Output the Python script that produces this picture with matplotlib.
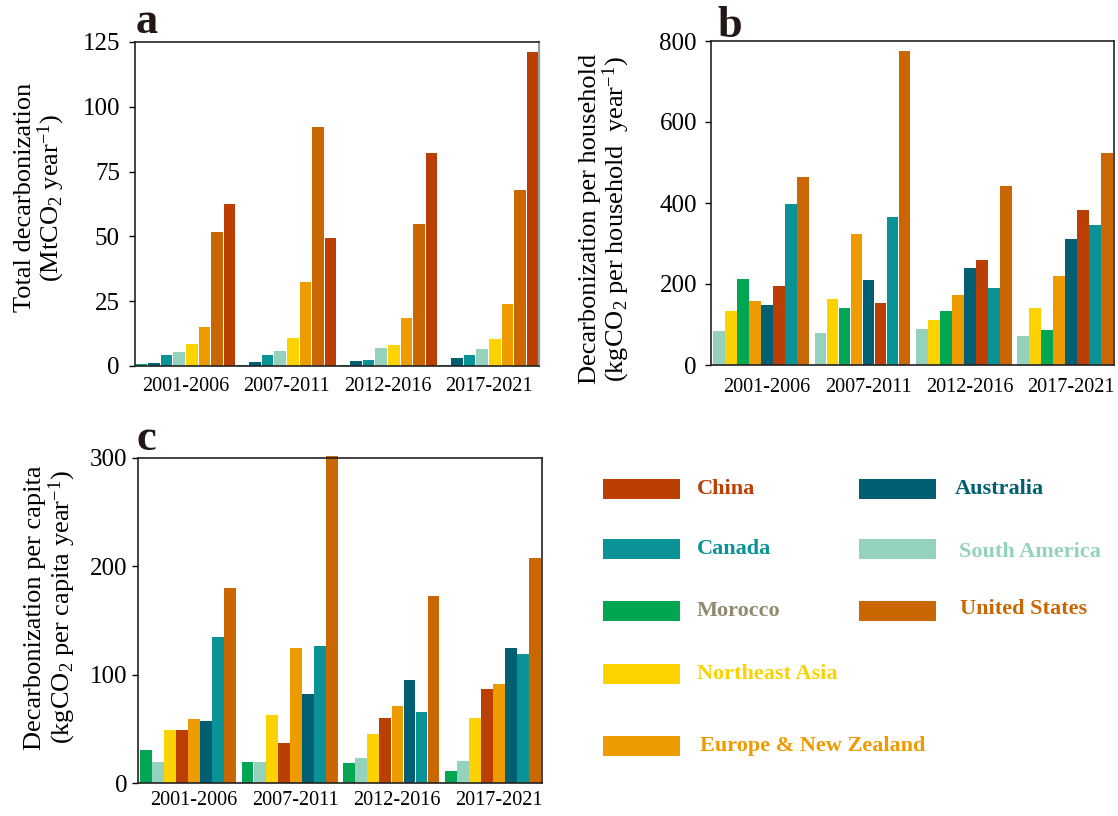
import matplotlib
matplotlib.use('Agg')
import matplotlib.pyplot as plt
from matplotlib.patches import Rectangle

plt.rcParams['font.family'] = ['Liberation Serif', 'DejaVu Serif']
plt.rcParams['mathtext.fontset'] = 'custom'
plt.rcParams['mathtext.rm'] = 'Liberation Serif'
plt.rcParams['mathtext.it'] = 'Liberation Serif:italic'

W, H = 1118, 816

periods = ['2001-2006', '2007-2011', '2012-2016', '2017-2021']

colors = {
    'China': '#BB3E03',
    'Canada': '#0A9396',
    'Morocco': '#00A651',
    'Northeast Asia': '#FCD200',
    'Europe & New Zealand': '#EE9B00',
    'Australia': '#005F73',
    'South America': '#94D2BD',
    'United States': '#CA6702',
}
label_colors = dict(colors)
label_colors['Morocco'] = '#8F8A6E'

# panel a - total decarbonization (MtCO2 / year), bars left to right in each period
total_order = ['Morocco', 'Australia', 'Canada', 'South America',
               'Northeast Asia', 'Europe & New Zealand', 'United States', 'China']
total_values = [
    [0.9, 0.4, 0.4, 0.4],
    [1.3, 1.7, 2.1, 3.2],
    [4.4, 4.4, 2.4, 4.4],
    [5.5, 5.9, 7.1, 6.7],
    [8.6, 10.9, 8.2, 10.5],
    [15.1, 32.5, 18.6, 24.0],
    [51.7, 92.2, 54.8, 67.9],
    [62.5, 49.3, 82.2, 121.1],
]

# panel b - per household (kgCO2 / household / year)
household_order = ['South America', 'Northeast Asia', 'Morocco', 'Europe & New Zealand',
                   'Australia', 'China', 'Canada', 'United States']
household_values = [
    [85, 79, 89, 72],
    [133, 163, 111, 141],
    [212, 141, 133, 86],
    [158, 323, 173, 220],
    [148, 210, 240, 311],
    [195, 153, 259, 383],
    [398, 365, 190, 346],
    [464, 775, 442, 523],
]

# panel c - per capita (kgCO2 / capita / year)
capita_order = ['Morocco', 'South America', 'Northeast Asia', 'China',
                'Europe & New Zealand', 'Australia', 'Canada', 'United States']
capita_values = [
    [30.2, 19.1, 18.2, 10.8],
    [19.1, 19.1, 22.8, 20.0],
    [48.7, 62.6, 45.0, 59.8],
    [48.7, 36.7, 59.8, 86.6],
    [58.9, 124.6, 70.9, 91.3],
    [57.0, 82.0, 95.0, 124.6],
    [134.7, 126.4, 65.4, 119.0],
    [180.0, 301.5, 172.7, 207.8],
]

legend_col1 = ['China', 'Canada', 'Morocco', 'Northeast Asia', 'Europe & New Zealand']
legend_col2 = ['Australia', 'South America', 'United States']


def px_rect(l, t, r, b):
    return [l / W, 1 - b / H, (r - l) / W, (b - t) / H]


def style_axes(ax, yticks, ylim, xpad, ypad):
    ax.set_ylim(*ylim)
    ax.set_yticks(yticks)
    ax.tick_params(axis='y', length=4.3, width=1, labelsize=18, pad=ypad, direction='out')
    ax.tick_params(axis='x', length=0, labelsize=14.5, pad=xpad)
    for s in ax.spines.values():
        s.set_color('#222222')
        s.set_linewidth(1.2)


fig = plt.figure(figsize=(W / 100, H / 100), dpi=100)

# ---- panel a
ax_a = fig.add_axes(px_rect(135, 42, 539, 366))
for j, region in enumerate(total_order):
    xs = [g * 8 + j for g in range(4)]
    ax_a.bar(xs, total_values[j], width=0.92, color=colors[region], linewidth=0)
ax_a.set_xlim(-0.5, 31.5)
ax_a.set_xticks([g * 8 + 3.5 for g in range(4)])
ax_a.set_xticklabels(periods)
style_axes(ax_a, [0, 25, 50, 75, 100, 125], (0, 125), 8, 6.5)
ax_a.spines['right'].set_color('#999999')
ax_a.spines['right'].set_linewidth(1.6)
ax_a.set_ylabel('Total decarbonization\n(MtCO$_2$ year$^{-1}$)', fontsize=19, linespacing=1.0)
ax_a.yaxis.set_label_coords(-0.168, 0.52)

# ---- panel b
pitch = 8.44
ax_b = fig.add_axes(px_rect(711, 41, 1114, 365))
for j, region in enumerate(household_order):
    xs = [g * pitch + j for g in range(4)]
    ax_b.bar(xs, household_values[j], width=0.97, color=colors[region], linewidth=0)
ax_b.set_xlim(-0.67, 3 * pitch + 7.58)
ax_b.set_xticks([g * pitch + 4 for g in range(4)])
ax_b.set_xticklabels(periods)
style_axes(ax_b, [0, 200, 400, 600, 800], (0, 800), 9.5, 5.8)
ax_b.set_ylabel('Decarbonization per household\n(kgCO$_2$ per household  year$^{-1}$)',
                fontsize=19, linespacing=1.0)
ax_b.yaxis.set_label_coords(-0.196, 0.45)

# ---- panel c
ax_c = fig.add_axes(px_rect(138, 458, 542, 783))
for j, region in enumerate(capita_order):
    xs = [g * pitch + j for g in range(4)]
    ax_c.bar(xs, capita_values[j], width=0.97, color=colors[region], linewidth=0, clip_on=False)
ax_c.set_xlim(-0.67, 3 * pitch + 7.58)
ax_c.set_xticks([g * pitch + 4 for g in range(4)])
ax_c.set_xticklabels(periods)
style_axes(ax_c, [0, 100, 200, 300], (0, 300), 6, 3.5)
ax_c.set_ylabel('Decarbonization per capita\n(kgCO$_2$ per capita year$^{-1}$)',
                fontsize=19, linespacing=1.0)
ax_c.yaxis.set_label_coords(-0.149, 0.54)

# panel letters
for letter, x, y in [('a', 136, 33), ('b', 717, 37), ('c', 137, 450)]:
    fig.text(x / W, 1 - y / H, letter, fontsize=32, fontweight='bold',
             color='#231815', ha='left', va='baseline')

# ---- legend drawn by hand
row_y = [489, 549, 611, 674, 746]
for i, region in enumerate(legend_col1):
    y = row_y[i]
    fig.add_artist(Rectangle((603 / W, 1 - (y + 10) / H), 77 / W, 20 / H,
                             transform=fig.transFigure, facecolor=colors[region],
                             edgecolor='none'))
    tx = 700 if region == 'Europe & New Zealand' else 697
    fig.text(tx / W, 1 - y / H, region, fontsize=16, fontweight='bold',
             color=label_colors[region], ha='left', va='center')
text_x2 = [955, 959, 960]
text_y2 = [489, 552, 609]
for i, region in enumerate(legend_col2):
    y = row_y[i]
    fig.add_artist(Rectangle((859 / W, 1 - (y + 10) / H), 77 / W, 20 / H,
                             transform=fig.transFigure, facecolor=colors[region],
                             edgecolor='none'))
    fig.text(text_x2[i] / W, 1 - text_y2[i] / H, region, fontsize=16, fontweight='bold',
             color=label_colors[region], ha='left', va='center')

fig.savefig('out.png', dpi=100)
